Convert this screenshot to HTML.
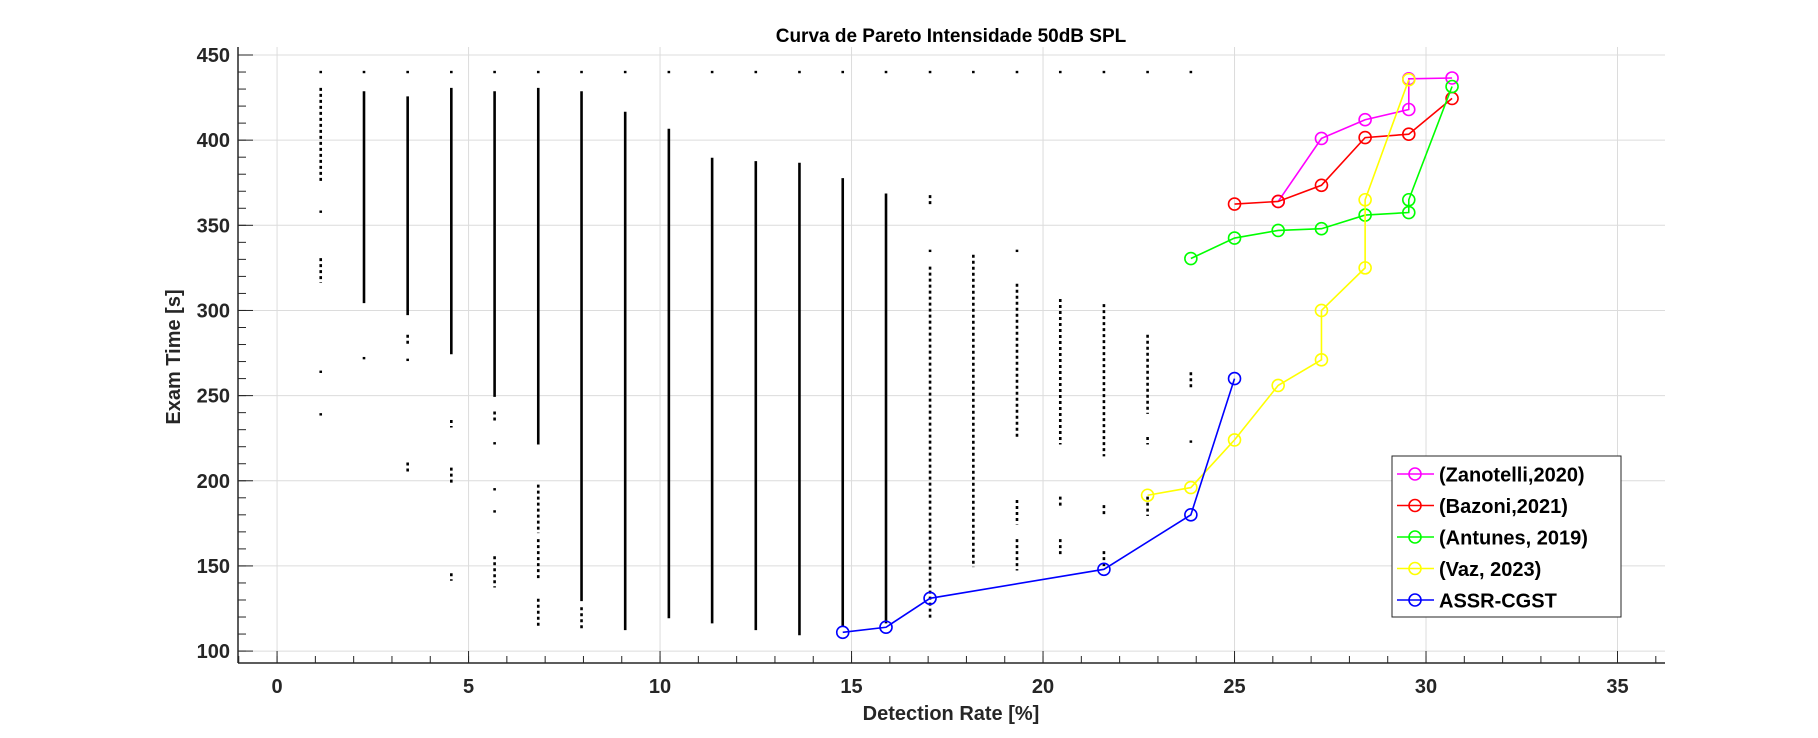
<!DOCTYPE html>
<html><head><meta charset="utf-8"><style>
html,body{margin:0;padding:0;background:#fff;}
svg text{font-family:"Liberation Sans",Arial,sans-serif;font-weight:bold;}
</style></head><body>
<svg id="chart" width="1818" height="733" viewBox="0 0 1818 733" xmlns="http://www.w3.org/2000/svg">
<g id="grid"></g>
<g id="scatter"></g>
<g id="series"></g>
<g id="axes"></g>
<text x="951" y="42" text-anchor="middle" font-size="19">Curva de Pareto Intensidade 50dB SPL</text>
<text x="951" y="720" text-anchor="middle" font-size="20" fill="#262626">Detection Rate [%]</text>
<text transform="translate(180,357) rotate(-90)" text-anchor="middle" font-size="20" fill="#262626">Exam Time [s]</text>
<g id="legend"></g>
</svg>
<script>
const xTicks=[0,5,10,15,20,25,30,35];
const yTicks=[100,150,200,250,300,350,400,450];
// scatter column segments: [x, low, high, sparse]
const scatterSegments=[
[1.14,440,440,0],[1.14,375,430,1],[1.14,358,358,0],[1.14,317,330,1],[1.14,264,264,0],[1.14,239,239,0],
[2.27,440,440,0],[2.27,305,428,0],[2.27,272,272,0],
[3.41,440,440,0],[3.41,298,425,0],[3.41,280,285,1],[3.41,271,271,0],[3.41,205,210,1],
[4.55,440,440,0],[4.55,275,430,0],[4.55,232,235,1],[4.55,198,207,1],[4.55,142,145,1],
[5.68,440,440,0],[5.68,250,428,0],[5.68,235,240,1],[5.68,222,222,0],[5.68,195,195,0],[5.68,182,182,0],[5.68,138,155,1],
[6.82,440,440,0],[6.82,222,430,0],[6.82,170,197,1],[6.82,143,165,1],[6.82,115,130,1],
[7.95,440,440,0],[7.95,130,428,0],[7.95,113,125,1],
[9.09,440,440,0],[9.09,113,416,0],
[10.23,440,440,0],[10.23,120,406,0],
[11.36,440,440,0],[11.36,117,389,0],
[12.5,440,440,0],[12.5,113,387,0],
[13.64,440,440,0],[13.64,110,386,0],
[14.77,440,440,0],[14.77,115,377,0],
[15.9,440,440,0],[15.9,117,368,0],
[17.05,440,440,0],[17.05,362,367,1],[17.05,335,335,0],[17.05,120,325,1],
[18.18,440,440,0],[18.18,150,332,1],
[19.32,440,440,0],[19.32,335,335,0],[19.32,225,315,1],[19.32,175,188,1],[19.32,148,165,1],
[20.45,440,440,0],[20.45,222,306,1],[20.45,185,190,1],[20.45,157,165,1],
[21.59,440,440,0],[21.59,215,303,1],[21.59,180,185,1],[21.59,150,158,1],
[22.73,440,440,0],[22.73,240,285,1],[22.73,222,225,1],[22.73,180,190,1],
[23.86,440,440,0],[23.86,255,263,1],[23.86,223,223,0]
];
const seriesNames=["(Zanotelli,2020)","(Bazoni,2021)","(Antunes, 2019)","(Vaz, 2023)","ASSR-CGST"];
const seriesColors=["#ff00ff","#ff0000","#00ff00","#ffff00","#0000ff"];
const zanotelliX=[26.14,27.27,28.41,29.55,29.55,30.68];
const zanotelliY=[364,401,412,418,436,436.5];
const bazoniX=[25,26.14,27.27,28.41,29.55,30.68];
const bazoniY=[362.5,364,373.5,401.5,403.5,424.5];
const antunesX=[23.86,25,26.14,27.27,28.41,29.55,29.55,30.68];
const antunesY=[330.5,342.5,347,348,356,357.5,365,431.5];
const vazX=[22.73,23.86,25,26.14,27.27,27.27,28.41,28.41,29.55];
const vazY=[191.5,196,224,256,271,300,325,365,435.5];
const assrX=[14.77,15.9,17.05,21.59,23.86,25];
const assrY=[111,114,131,148,180,260];

const NS="http://www.w3.org/2000/svg";
const L=238,R=1665,T=55,B=663;
const xMin=-1.02,xMax=36.24,yMin=93,yMax=450;
const sx=v=>L+(v-xMin)/(xMax-xMin)*(R-L);
const sy=v=>B-(v-yMin)/(yMax-yMin)*(B-T);
function mk(tag,attrs,parent){const e=document.createElementNS(NS,tag);for(const k in attrs)e.setAttribute(k,attrs[k]);parent.appendChild(e);return e;}
const grid=document.getElementById('grid'),axes=document.getElementById('axes'),sc=document.getElementById('scatter'),se=document.getElementById('series'),lg=document.getElementById('legend');
xTicks.forEach(t=>{const g=mk('line',{x1:sx(t),x2:sx(t),y1:T-8,y2:B,stroke:'#dcdcdc','stroke-width':1},grid);

const tl=mk('text',{x:sx(t),y:B+30,'text-anchor':'middle','font-size':20,fill:'#262626'},axes);tl.textContent=t;

mk('line',{x1:sx(t),x2:sx(t),y1:B,y2:B-12,stroke:'#262626','stroke-width':1},axes);});
for(let v=-1;v<=36;v++){mk('line',{x1:sx(v),x2:sx(v),y1:B,y2:B-7,stroke:'#262626','stroke-width':1},axes);}
yTicks.forEach(t=>{const g=mk('line',{x1:L,x2:R,y1:sy(t),y2:sy(t),stroke:'#dcdcdc','stroke-width':1},grid);

const tl=mk('text',{x:L-8,y:sy(t)+7,'text-anchor':'end','font-size':20,fill:'#262626'},axes);tl.textContent=t;

mk('line',{x1:L,x2:L+15,y1:sy(t),y2:sy(t),stroke:'#262626','stroke-width':1},axes);});
for(let v=100;v<=450;v+=10){mk('line',{x1:L,x2:L+8,y1:sy(v),y2:sy(v),stroke:'#262626','stroke-width':1},axes);}
mk('line',{x1:L,x2:R,y1:B,y2:B,stroke:'#262626','stroke-width':1.5},axes);
mk('line',{x1:L,x2:L,y1:T-8,y2:B,stroke:'#262626','stroke-width':1.5},axes);
scatterSegments.forEach(s=>{const x=sx(s[0]),y1=sy(s[2])-1.2,y2=sy(s[1])+1.2;
const ln=mk('line',{x1:x,x2:x,y1:y1,y2:y2,stroke:'#000','stroke-width':2.6},sc);
if(s[3])ln.setAttribute('stroke-dasharray','3 3');
});
const allX=[zanotelliX,bazoniX,antunesX,vazX,assrX],allY=[zanotelliY,bazoniY,antunesY,vazY,assrY];
const names=['zanotelli-series','bazoni-series','antunes-series','vaz-series','assr-cgst-series'];
allX.forEach((xs,i)=>{const g=mk('g',{},se);
const pl=mk('polyline',{points:xs.map((x,j)=>sx(x)+','+sy(allY[i][j])).join(' '),fill:'none',stroke:seriesColors[i],'stroke-width':1.6},g);

xs.forEach((x,j)=>{const c=mk('circle',{cx:sx(x),cy:sy(allY[i][j]),r:6,fill:'none',stroke:seriesColors[i],'stroke-width':1.6},g);
});});
const lb=mk('rect',{x:1392,y:456,width:229,height:161,fill:'#fff',stroke:'#262626','stroke-width':1},lg);

seriesNames.forEach((n,i)=>{const y=474+i*31.5;const g=mk('g',{},lg);

mk('line',{x1:1397,x2:1434,y1:y,y2:y,stroke:seriesColors[i],'stroke-width':1.6},g);
mk('circle',{cx:1415,cy:y,r:6,fill:'none',stroke:seriesColors[i],'stroke-width':1.6},g);
const t=mk('text',{x:1439,y:y+7.5,'font-size':20,fill:'#000'},g);t.textContent=n;});
</script>
</body></html>
